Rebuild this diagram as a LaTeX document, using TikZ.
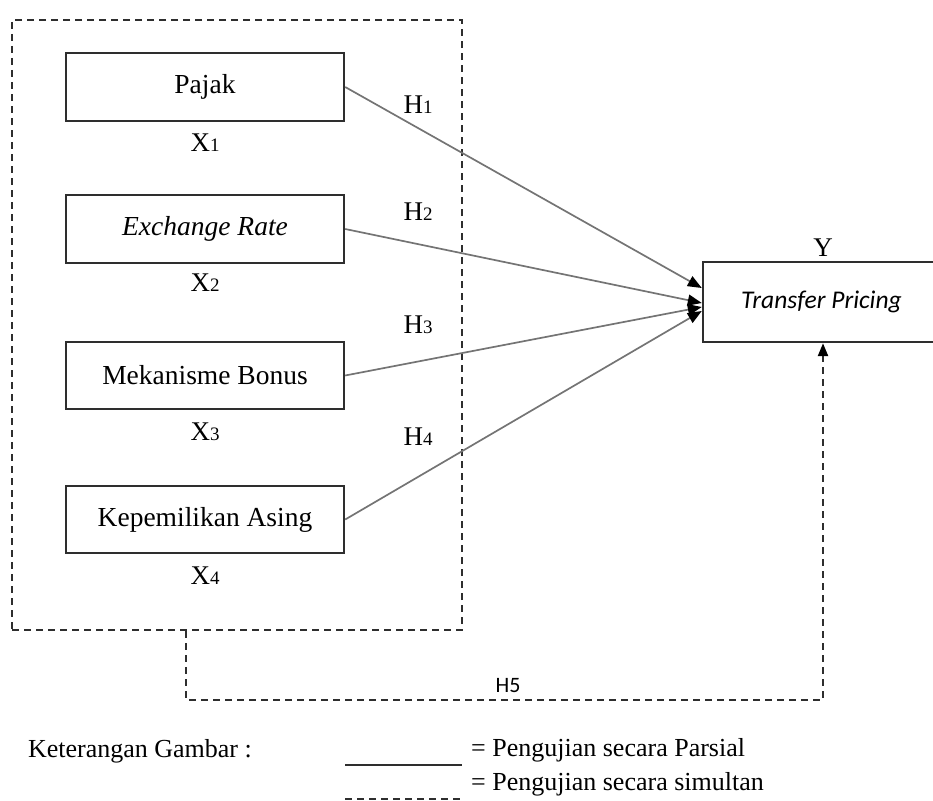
\documentclass[tikz,border=0pt]{standalone}
\usepackage{fontspec}
\setmainfont{Liberation Serif}
\newfontfamily\calib{Carlito}
\usetikzlibrary{arrows.meta}
\definecolor{boxline}{HTML}{2E2E2E}
\definecolor{connc}{HTML}{747474}
\newcommand\smalldigit[1]{{\fontsize{19}{22}\selectfont #1}}
\begin{document}
\begin{tikzpicture}[x=1pt,y=-1pt,
  box/.style={draw=boxline, line width=2.4pt, minimum width=278pt, minimum height=68pt, inner sep=0pt, font=\fontsize{27.5}{32}\selectfont},
  lbl/.style={inner sep=0pt, font=\fontsize{27}{32}\selectfont},
  lgd/.style={inner sep=0pt, font=\fontsize{26}{30}\selectfont},
  conn/.style={draw=connc, line width=1.7pt, -{Triangle[length=14pt,width=11pt,color=black]}},
  dline/.style={draw=boxline, line width=2.4pt, dash pattern=on 7pt off 5pt}]
\useasboundingbox (0,0) rectangle (933,800);
% group box
\node[dline, minimum width=450pt, minimum height=610pt, inner sep=0pt] (grp) at (237,325) {};
% boxes
\node[box] (p) at (205,87) {Pajak};
\node[box] (e) at (205,229) {\textit{Exchange Rate}};
\node[box, minimum height=67pt] (m) at (205,375.5) {Mekanisme Bonus};
\node[box, minimum height=67pt] (k) at (205,519.5) {Kepemilikan Asing};
\node[box, minimum width=237pt, minimum height=80pt, font=\calib\itshape\fontsize{25.5}{30}\selectfont] (tp) at (821.5,302) {Transfer Pricing};
% X labels
\node[lbl] (x1) at (205,143) {X\smalldigit{1}};
\node[lbl] (x2) at (205,283) {X\smalldigit{2}};
\node[lbl] (x3) at (205,432) {X\smalldigit{3}};
\node[lbl] (x4) at (205,576) {X\smalldigit{4}};
\node[lbl, anchor=base] (y) at (823,256) {Y};
% H labels
\node[lbl] (h1) at (418,105) {H\smalldigit{1}};
\node[lbl] (h2) at (418,212) {H\smalldigit{2}};
\node[lbl] (h3) at (418,325) {H\smalldigit{3}};
\node[lbl] (h4) at (418,437) {H\smalldigit{4}};
% connectors
\draw[conn] (p.east) -- ([yshift=14pt]tp.west);
\draw[conn] (e.east) -- ([yshift=-1pt]tp.west);
\draw[conn] (m.east) -- ([yshift=-5pt]tp.west);
\draw[conn] (k.east) -- ([yshift=-9pt]tp.west);
% H5 path
\coordinate (h5x) at (186,700);
\draw[dline, -{Triangle[length=13pt,width=10pt,color=black]}] (h5x |- grp.south) -- (h5x) -- ([xshift=1.5pt]tp.south |- h5x) -- ([xshift=1.5pt]tp.south);
\node[inner sep=0pt, anchor=base, font=\calib\fontsize{22}{26}\selectfont] (h5) at (508,692) {H5};
% legend
\node[lgd, anchor=base east] (ket) at (252,757) {Keterangan Gambar :};
\coordinate (s1) at (345,765);
\coordinate (s2) at (462,765);
\draw[draw=boxline, line width=2.5pt] (s1) -- (s2);
\node[lgd, anchor=base west] (l1) at (471,756) {= Pengujian secara Parsial};
\node[lgd, anchor=base west] (l2) at (471,790) {= Pengujian secara simultan};
\coordinate (d1) at (345,799);
\coordinate (d2) at (462,799);
\draw[dline, line width=1.5pt] (d1) -- (d2);
\end{tikzpicture}
\end{document}
